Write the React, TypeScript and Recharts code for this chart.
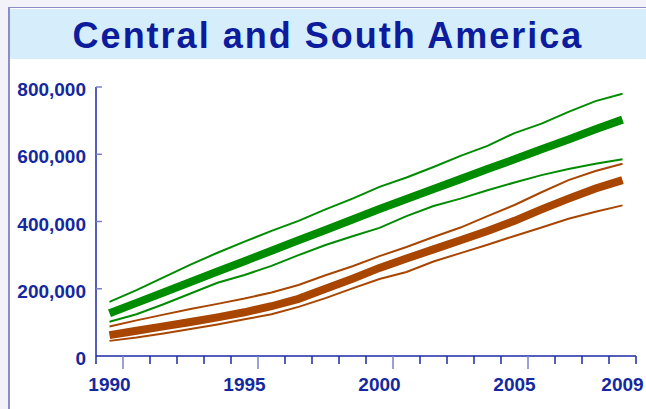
import React from "react";
import { LineChart, Line, XAxis, YAxis } from "recharts";

const years = [1990,1991,1992,1993,1994,1995,1996,1997,1998,1999,2000,2001,2002,2003,2004,2005,2006,2007,2008,2009];
const greenMid = [127,158,189,220,251,282,313,344,375,406,437,467,497,526,556,585,615,644,674,703];
const greenHigh = [161,196,234,272,307,340,372,402,436,468,503,531,562,595,625,663,691,726,758,780];
const greenLow = [102,124,154,186,218,241,268,300,330,356,381,416,446,468,493,516,538,556,572,585];
const orangeMid = [62,75,88,101,115,130,148,170,200,230,262,290,317,344,372,402,436,468,498,523];
const orangeHigh = [88,106,123,140,155,171,189,211,240,267,297,324,354,382,416,449,487,523,550,572];
const orangeLow = [45,55,67,80,94,109,124,146,172,201,229,250,281,306,331,357,382,408,429,448];
const yTicks = [0, 200000, 400000, 600000, 800000];
const xLabelYears = [1990, 1995, 2000, 2005, 2009];
const title = "Central and South America";

const data = years.map((year, i) => ({
  year,
  greenMid: greenMid[i] * 1000,
  greenHigh: greenHigh[i] * 1000,
  greenLow: greenLow[i] * 1000,
  orangeMid: orangeMid[i] * 1000,
  orangeHigh: orangeHigh[i] * 1000,
  orangeLow: orangeLow[i] * 1000,
}));

const boundaries = [...years.map((y) => y - 0.5), years[years.length - 1] + 0.5];
const xTicks = [...boundaries, ...xLabelYears];

const AXIS_COLOR = "#1a2aa0";
const TICK_COLOR = "#7a80c8";
const LABEL_COLOR = "#1428a0";
const FONT = "'Liberation Sans', Arial, sans-serif";

const XTick = (props: any) => {
  const { x, y, payload } = props;
  const v = payload.value;
  if (Number.isInteger(v)) {
    return (
      <text x={x} y={y + 35} textAnchor="middle" fill={LABEL_COLOR} fontFamily={FONT} fontWeight="bold" fontSize={19}>
        {v}
      </text>
    );
  }
  const long = (v - 0.5) % 5 === 0 && v < 2009;
  return <line x1={x} x2={x} y1={y} y2={y + (long ? 13 : 8)} stroke={long ? TICK_COLOR : AXIS_COLOR} strokeWidth={1.5} />;
};

const YTick = (props: any) => {
  const { x, y, payload } = props;
  return (
    <g>
      {payload.value !== 0 && <line x1={x} x2={x + 6} y1={y} y2={y} stroke={TICK_COLOR} strokeWidth={1.5} />}
      <text x={x - 10} y={y + 9} textAnchor="end" fill={LABEL_COLOR} fontFamily={FONT} fontWeight="bold" fontSize={19}>
        {payload.value.toLocaleString("en-US")}
      </text>
    </g>
  );
};

const GREEN = "#008c00";
const ORANGE = "#a84600";

export default function App() {
  return (
    <div style={{ position: "fixed", left: 0, top: 0, width: 646, height: 409, overflow: "hidden", background: "#f2f2f8" }}>
      <div
        style={{
          position: "absolute",
          left: 8,
          top: 7,
          width: 700,
          height: 500,
          background: "#ffffff",
          borderLeft: "2px solid #8c8ccc",
          borderTop: "1.5px solid #8c8ccc",
        }}
      />
      <div
        style={{
          position: "absolute",
          left: 10,
          top: 8.5,
          width: 700,
          height: 50,
          background: "#d6eefc",
        }}
      />
      <div
        style={{
          position: "absolute",
          left: 10,
          top: 11,
          width: 636,
          height: 50,
          lineHeight: "50px",
          textAlign: "center",
          color: "#0c1c9c",
          fontFamily: FONT,
          fontSize: 36,
          letterSpacing: 2,
          fontWeight: "bold",
          whiteSpace: "nowrap",
        }}
      >
        {title}
      </div>
      <div style={{ position: "absolute", left: 0, top: 0 }}>
        <LineChart width={646} height={409} data={data} margin={{ top: 87, right: 10, left: 6, bottom: 13 }}>
          <XAxis
            dataKey="year"
            type="number"
            domain={[1989.5, 2009.5]}
            ticks={xTicks}
            interval={0}
            tickSize={0}
            tickMargin={0}
            tickLine={false}
            tick={<XTick />}
            height={40}
            axisLine={{ stroke: AXIS_COLOR, strokeWidth: 1.5 }}
            allowDataOverflow
          />
          <YAxis
            type="number"
            domain={[0, 800000]}
            ticks={yTicks}
            interval={0}
            tickSize={0}
            tickMargin={0}
            tickLine={false}
            tick={<YTick />}
            width={90}
            axisLine={{ stroke: AXIS_COLOR, strokeWidth: 1.5 }}
          />
          <Line dataKey="greenHigh" stroke={GREEN} strokeWidth={2} dot={false} isAnimationActive={false} type="linear" />
          <Line dataKey="greenLow" stroke={GREEN} strokeWidth={2} dot={false} isAnimationActive={false} type="linear" />
          <Line dataKey="greenMid" stroke={GREEN} strokeWidth={8} dot={false} isAnimationActive={false} type="linear" />
          <Line dataKey="orangeHigh" stroke={ORANGE} strokeWidth={2} dot={false} isAnimationActive={false} type="linear" />
          <Line dataKey="orangeLow" stroke={ORANGE} strokeWidth={2} dot={false} isAnimationActive={false} type="linear" />
          <Line dataKey="orangeMid" stroke={ORANGE} strokeWidth={8} dot={false} isAnimationActive={false} type="linear" />
        </LineChart>
      </div>
    </div>
  );
}
